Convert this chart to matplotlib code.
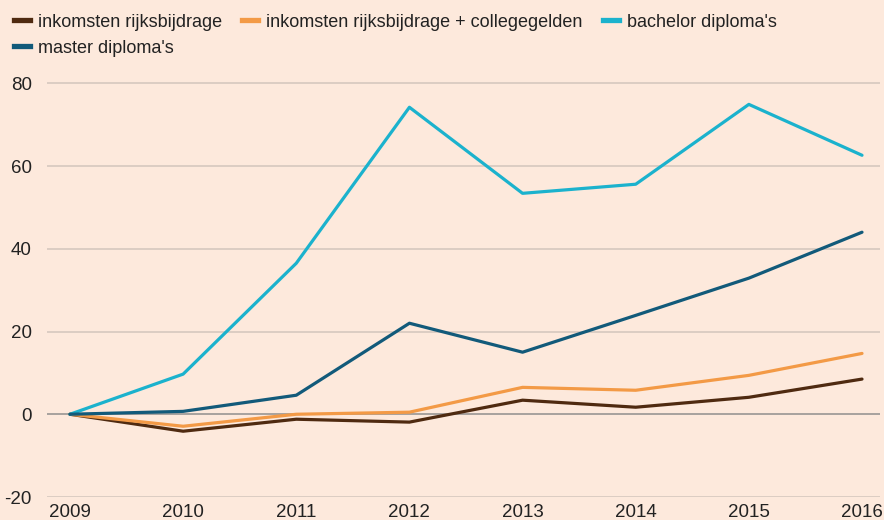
import numpy as np
import matplotlib.pyplot as plt

plt.rcParams['font.family'] = ['Liberation Sans', 'DejaVu Sans']
plt.rcParams['axes.unicode_minus'] = False

# Data (index, 2009 = 0)
years = [2009, 2010, 2011, 2012, 2013, 2014, 2015, 2016]
rijksbijdrage = [0, -4.1, -1.2, -1.9, 3.4, 1.7, 4.1, 8.5]
rijks_college = [0, -2.9, 0.0, 0.5, 6.5, 5.8, 9.4, 14.7]
bachelor = [0, 9.7, 36.5, 74.2, 53.4, 55.6, 74.9, 62.6]
master = [0, 0.7, 4.6, 22.0, 15.0, 23.9, 32.9, 44.0]

labels = ["inkomsten rijksbijdrage", "inkomsten rijksbijdrage + collegegelden",
          "bachelor diploma's", "master diploma's"]
colors = ['#4f2a10', '#f39a46', '#1bb2cd', '#125a7a']
bg = '#fde9dc'

fig = plt.figure(figsize=(8.84, 5.2), dpi=100, facecolor=bg)
ax = fig.add_axes([47/884, 23/520, 833/884, 422/520], facecolor=bg)

series = [rijksbijdrage, rijks_college, bachelor, master]
for s, c, lab in zip(series, colors, labels):
    ax.plot(years, s, color=c, lw=2.3, label=lab, solid_capstyle='round',
            solid_joinstyle='round', zorder=3)

ax.set_xlim(2008.797, 2016.159)
ax.set_ylim(-20, 82)
ax.set_yticks([-20, 0, 20, 40, 60, 80])
ax.set_xticks(years)
ax.grid(axis='y', color='#d6c8be', lw=1.2)
ax.axhline(0, color='#a8a29e', lw=1.4, zorder=2)
for sp in ax.spines.values():
    sp.set_visible(False)
ax.tick_params(axis='both', length=0, labelsize=13.5, colors='#222222')
ax.tick_params(axis='y', pad=11)
ax.tick_params(axis='x', pad=5)

# legend: first row three entries, second row one
order = [0, 3, 1, 2]
leg_handles = [plt.Line2D([], [], color=colors[i], lw=3.8) for i in order]
fig.legend(leg_handles, [labels[i] for i in order], ncol=3, loc='upper left',
           bbox_to_anchor=(0.0, 1.0), frameon=False, fontsize=13,
           handlelength=0.9, handletextpad=0.45, columnspacing=1.1,
           labelspacing=0.5, borderaxespad=0.35, labelcolor='#222222')

fig.savefig('out.png', dpi=100, facecolor=bg)
